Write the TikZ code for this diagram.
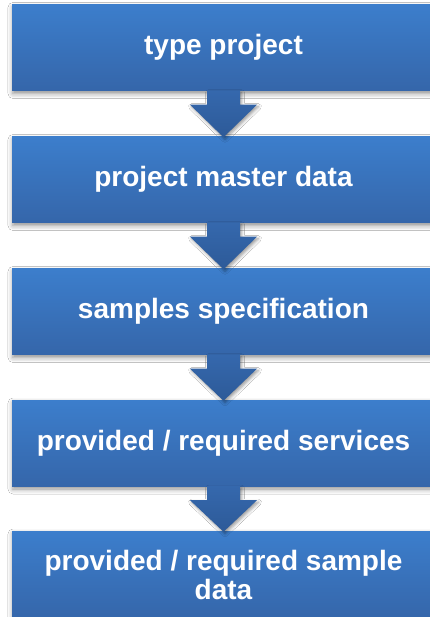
\documentclass[tikz,border=0pt]{standalone}
\usepackage{fontspec}
\setmainfont{Liberation Sans}
\usetikzlibrary{calc,shadows.blur}
\definecolor{boxtop}{HTML}{3C7ECC}
\definecolor{boxbot}{HTML}{3566AA}
\definecolor{arrtop}{HTML}{3568AD}
\definecolor{arrbot}{HTML}{2D5A98}
\tikzset{
  stagebox/.style={rectangle, minimum width=423pt, minimum height=86pt, inner sep=0pt,
    top color=boxtop, bottom color=boxbot, text=white, align=center,
    font=\fontsize{28}{29}\selectfont\bfseries,
    blur shadow={shadow xshift=1pt, shadow yshift=-3pt, shadow blur radius=5pt, shadow opacity=45}},
  flowarrow/.style={top color=arrtop, bottom color=arrbot,
    blur shadow={shadow xshift=1.5pt, shadow yshift=-2pt, shadow blur radius=3pt, shadow opacity=40}}
}
\begin{document}
\begin{tikzpicture}[x=1pt,y=1pt]
\useasboundingbox (0,0) rectangle (430,-617);
\clip (0,0) rectangle (430,-617);
\fill[white] (0,0) rectangle (430,-617);
\node[stagebox] (b1) at (223.5,-47.5) {type project};
\node[stagebox] (b2) at (223.5,-179.5) {project master data};
\node[stagebox] (b3) at (223.5,-311.5) {samples specification};
\node[stagebox] (b4) at (223.5,-443) {provided / required services};
\node[stagebox, minimum height=88pt] (b5) at (223.5,-575) {provided / required sample\\data};
\foreach \a/\b in {b1/b2,b2/b3,b3/b4,b4/b5}{
  \path[flowarrow]
    ($(\a.south)+(-16.5,0)$) -- ($(\a.south)+(16.5,0)$) -- ($(\a.south)+(16.5,-14)$)
    -- ($(\a.south)+(33.5,-14)$) -- ($(\b.north)+(0,-1)$) -- ($(\a.south)+(-33.5,-14)$)
    -- ($(\a.south)+(-16.5,-14)$) -- cycle;
}
\end{tikzpicture}
\end{document}
